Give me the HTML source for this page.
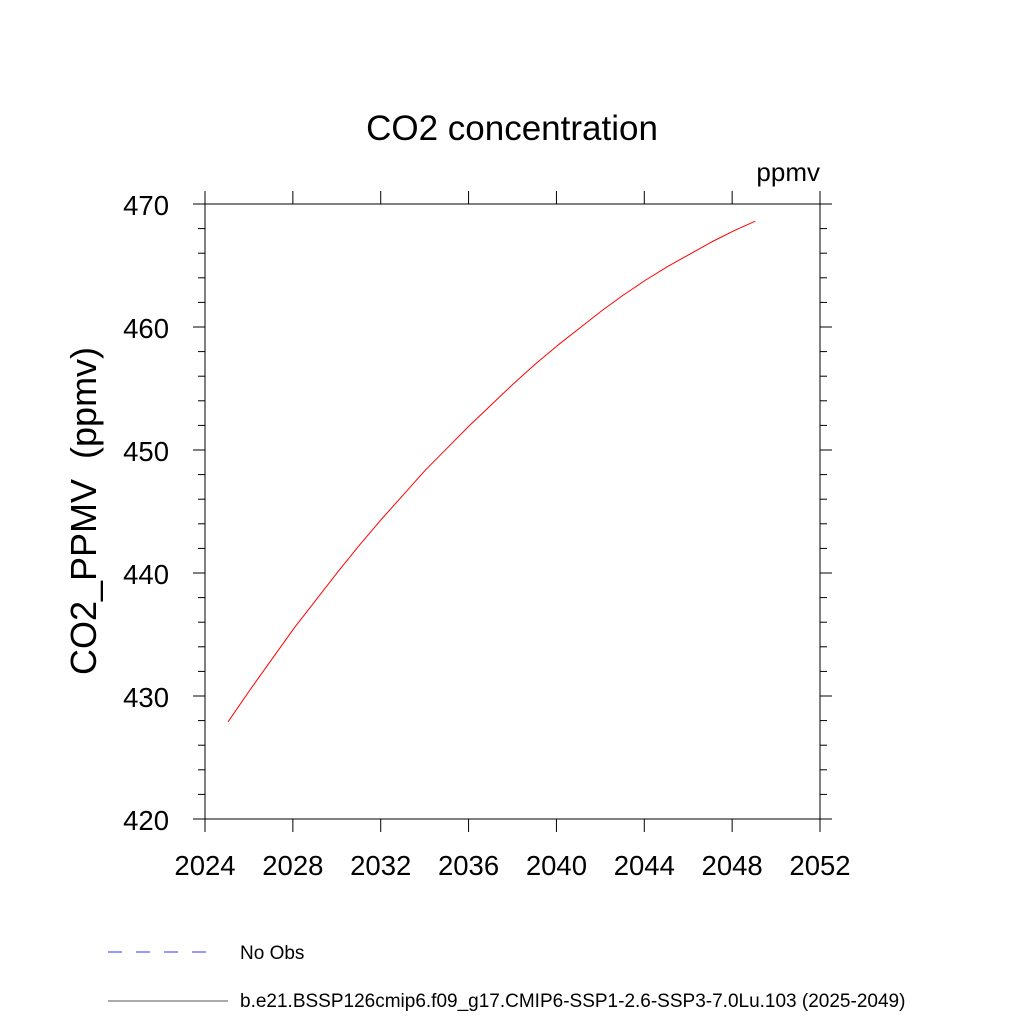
<!DOCTYPE html>
<html><head><meta charset="utf-8"><style>
html,body{margin:0;padding:0;background:#fff;}
svg text{font-family:"Liberation Sans",sans-serif;fill:#000;}
</style></head><body>
<svg id="chart" width="1024" height="1024" xmlns="http://www.w3.org/2000/svg">
<text x="512" y="140" font-size="35" text-anchor="middle">CO2 concentration</text>
<text x="820" y="181" font-size="26" text-anchor="end">ppmv</text>
<text transform="translate(96,511) rotate(-90)" font-size="36" text-anchor="middle" xml:space="preserve" style="white-space:pre">CO2_PPMV  (ppmv)</text>
<g id="axes"></g>
<g id="series"></g>
<line x1="108" y1="952" x2="218" y2="952" stroke="#3333ff" stroke-width="1" stroke-dasharray="14,14"/>
<text x="240" y="959" font-size="19">No Obs</text>
<line x1="108" y1="1001" x2="228" y2="1001" stroke="#555" stroke-width="1"/>
<text x="240" y="1007" font-size="19">b.e21.BSSP126cmip6.f09_g17.CMIP6-SSP1-2.6-SSP3-7.0Lu.103 (2025-2049)</text>
</svg>
<script>
const years=[2025,2026,2027,2028,2029,2030,2031,2032,2033,2034,2035,2036,2037,2038,2039,2040,2041,2042,2043,2044,2045,2046,2047,2048,2049];
const co2=[427.9,430.5,433.0,435.5,437.8,440.1,442.3,444.4,446.4,448.4,450.2,452.0,453.7,455.4,457.0,458.5,459.9,461.3,462.6,463.8,464.9,465.9,466.9,467.8,468.6];
const xTicks=[2024,2028,2032,2036,2040,2044,2048,2052];
const yTicks=[420,430,440,450,460,470];
const L=205,R=820,T=204,B=819;
const xs=v=>L+(v-2024)/(2052-2024)*(R-L);
const ys=v=>B-(v-420)/(470-420)*(B-T);
const NS="http://www.w3.org/2000/svg";
const ax=document.getElementById('axes');
function ln(x1,y1,x2,y2,name){const e=document.createElementNS(NS,'line');
e.setAttribute('x1',x1);e.setAttribute('y1',y1);e.setAttribute('x2',x2);e.setAttribute('y2',y2);
e.setAttribute('stroke','#000');e.setAttribute('stroke-width','1');


ax.appendChild(e);return e;}
const fr=document.createElementNS(NS,'rect');
fr.setAttribute('x',L);fr.setAttribute('y',T);fr.setAttribute('width',R-L);fr.setAttribute('height',B-T);
fr.setAttribute('fill','none');fr.setAttribute('stroke','#000');


ax.appendChild(fr);
xTicks.forEach(t=>{const x=xs(t);ln(x,B,x,B+13,'x-tick');ln(x,T,x,T-13,'x-tick-top');
const tx=document.createElementNS(NS,'text');tx.setAttribute('x',x);tx.setAttribute('y',B+56);
tx.setAttribute('font-size','27.5');tx.setAttribute('text-anchor','middle');tx.textContent=t;


ax.appendChild(tx);});
for(let v=420;v<=470;v+=2){const y=ys(v);const major=(v%10===0);const len=major?12:7;
ln(L-len,y,L,y,'y-tick');ln(R,y,R+len,y,'y-tick-right');}
yTicks.forEach(t=>{const y=ys(t);const tx=document.createElementNS(NS,'text');
tx.setAttribute('x',L-36);tx.setAttribute('y',y+11);tx.setAttribute('font-size','27.5');tx.setAttribute('text-anchor','end');tx.textContent=t;


ax.appendChild(tx);});
const p=document.createElementNS(NS,'polyline');
p.setAttribute('points',years.map((y,i)=>xs(y+0.05)+','+ys(co2[i])).join(' '));
p.setAttribute('fill','none');p.setAttribute('stroke','#ff0000');p.setAttribute('stroke-width','1');
p.setAttribute('stroke-linejoin','round');


document.getElementById('series').appendChild(p);
</script>
</body></html>
